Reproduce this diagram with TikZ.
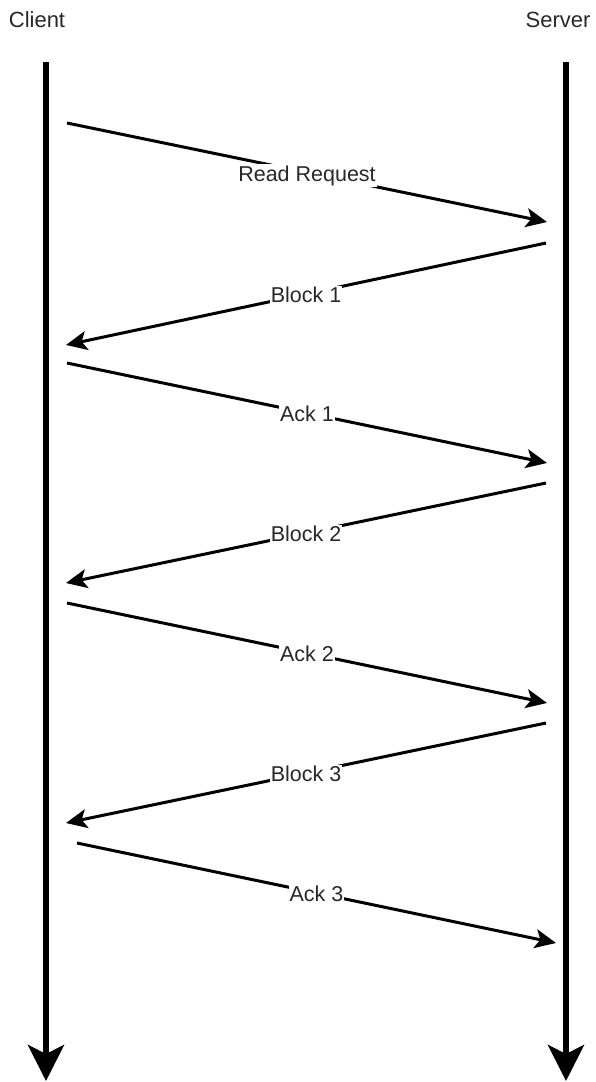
\documentclass[tikz,border=0pt]{standalone}
\usepackage{fontspec}
\setmainfont{Liberation Sans}
\usetikzlibrary{arrows.meta}
\definecolor{txt}{RGB}{40,40,40}
\tikzset{
  lifeline/.style={line width=6pt, -{Stealth[length=36pt,width=36pt,inset=9pt]}},
  msg/.style={line width=3pt, -{Stealth[length=21pt,width=19pt,inset=5pt]}},
  actor/.style={font=\fontsize{22}{26}\selectfont, text=txt, inner sep=0pt},
  msglabel/.style={font=\fontsize{21.5}{25}\selectfont, text=txt, fill=white, inner sep=1pt}
}
\begin{document}
\begin{tikzpicture}[x=1pt,y=-1pt]
\useasboundingbox (0,0) rectangle (595,1082);
\node[actor] (client) at (37,20) {Client};
\node[actor] (server) at (558,20) {Server};
\coordinate (ctop) at (46,62);
\coordinate (cbot) at (46,1081);
\coordinate (stop) at (566,62);
\coordinate (sbot) at (566,1081);
\draw[lifeline] (ctop) -- (cbot);
\draw[lifeline] (stop) -- (sbot);
% messages
\coordinate (a1) at (67,123);  \coordinate (b1) at (547,222);
\coordinate (a2) at (546,243); \coordinate (b2) at (66,345);
\coordinate (a3) at (67,363);  \coordinate (b3) at (547,463);
\coordinate (a4) at (546,483); \coordinate (b4) at (66,583);
\coordinate (a5) at (67,603);  \coordinate (b5) at (547,703);
\coordinate (a6) at (546,723); \coordinate (b6) at (66,823);
\coordinate (a7) at (77,843);  \coordinate (b7) at (556,943);
\draw[msg] (a1) -- node[msglabel, pos=0.5, yshift=-3pt] (l1) {Read Request} (b1);
\draw[msg] (a2) -- node[msglabel, pos=0.5, yshift=-1pt] (l2) {Block 1} (b2);
\draw[msg] (a3) -- node[msglabel, pos=0.5, yshift=-1pt] (l3) {Ack 1} (b3);
\draw[msg] (a4) -- node[msglabel, pos=0.5, yshift=-1pt] (l4) {Block 2} (b4);
\draw[msg] (a5) -- node[msglabel, pos=0.5, yshift=-1pt] (l5) {Ack 2} (b5);
\draw[msg] (a6) -- node[msglabel, pos=0.5, yshift=-1pt] (l6) {Block 3} (b6);
\draw[msg] (a7) -- node[msglabel, pos=0.5, yshift=-1pt] (l7) {Ack 3} (b7);
\end{tikzpicture}
\end{document}
